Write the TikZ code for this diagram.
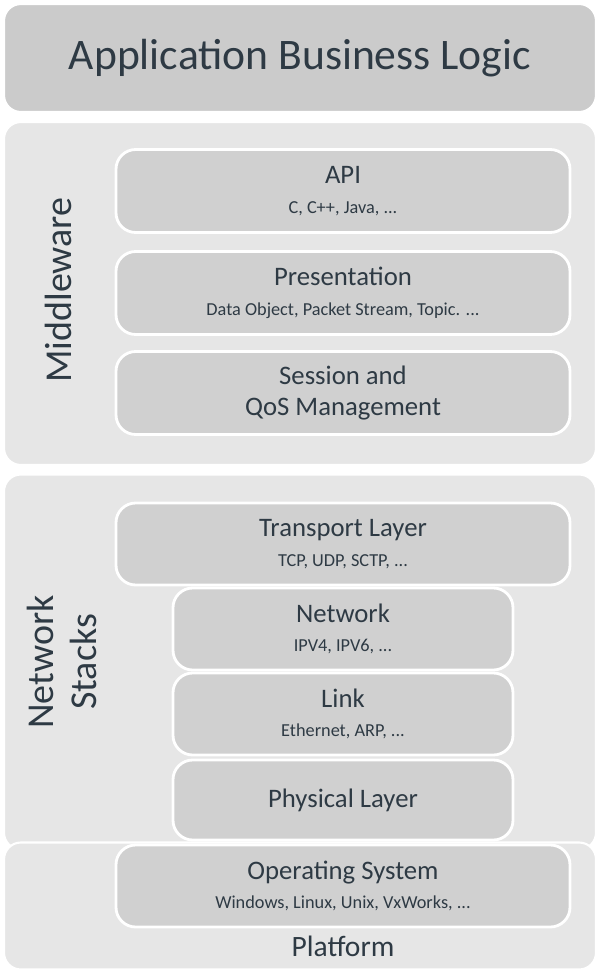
\documentclass[tikz,border=0pt]{standalone}
\usepackage{fontspec}
\setmainfont{Carlito}
\definecolor{outer}{HTML}{E6E6E6}
\definecolor{inner}{HTML}{D0D0D0}
\definecolor{top}{HTML}{CBCBCB}
\definecolor{ink}{HTML}{2E3A44}
\tikzset{group/.style={draw=white,line width=1.5pt,fill=outer,rounded corners=12pt,rectangle,text=ink}}
\tikzset{layer/.style={draw=white,line width=2pt,fill=inner,rounded corners=14pt,rectangle,text=ink,align=center,font=\fontsize{19}{22}\selectfont}}
\newcommand{\sub}[1]{\\[-1pt]{\fontsize{13}{15}\selectfont #1}}
\begin{document}
\begin{tikzpicture}[x=0.025cm,y=-0.025cm]
    \useasboundingbox[fill=white] (0,0) rectangle (600,974);
    \node[group,fill=top,minimum width=592*0.025cm,minimum height=108*0.025cm,font=\fontsize{31}{36}\selectfont] (app) at (300,58) {Application Business Logic};

    \node[group,minimum width=592*0.025cm,minimum height=343*0.025cm] (mid) at (300,293.5) {};
    \node[group,minimum width=592*0.025cm,minimum height=375*0.025cm] (net) at (300,662) {};
    \node[group,minimum width=592*0.025cm,minimum height=127*0.025cm] (plat) at (300,906) {};

    \node[text=ink,rotate=90,font=\fontsize{27}{30}\selectfont] (midlbl) at (58,290) {Middleware};
    \node[text=ink,rotate=90,align=center,font=\fontsize{27}{30}\selectfont] (netlbl) at (62,662) {Network\\Stacks};
    \node[text=ink,font=\fontsize{21}{24}\selectfont] (platlbl) at (343,946) {Platform};

    \node[layer,minimum width=454*0.025cm,minimum height=83*0.025cm] (api) at (343,191) {API\sub{C, C++, Java, ...}};
    \node[layer,minimum width=454*0.025cm,minimum height=83*0.025cm] (pres) at (343,293) {Presentation\sub{Data Object, Packet Stream, Topic. ...}};
    \node[layer,minimum width=454*0.025cm,minimum height=83*0.025cm] (sess) at (343,393) {Session and\\QoS Management};

    \node[layer,minimum width=454*0.025cm,minimum height=82*0.025cm] (trans) at (343,544) {Transport Layer\sub{TCP, UDP, SCTP, ...}};
    \node[layer,minimum width=340*0.025cm,minimum height=82*0.025cm] (netw) at (343,629) {Network\sub{IPV4, IPV6, ...}};
    \node[layer,minimum width=340*0.025cm,minimum height=82*0.025cm] (link) at (343,714) {Link\sub{Ethernet, ARP, ...}};
    \node[layer,minimum width=340*0.025cm,minimum height=80*0.025cm] (phys) at (343,800) {Physical Layer};
    \node[layer,minimum width=454*0.025cm,minimum height=82*0.025cm] (os) at (343,886) {Operating System\sub{Windows, Linux, Unix, VxWorks, ...}};
\end{tikzpicture}
\end{document}
